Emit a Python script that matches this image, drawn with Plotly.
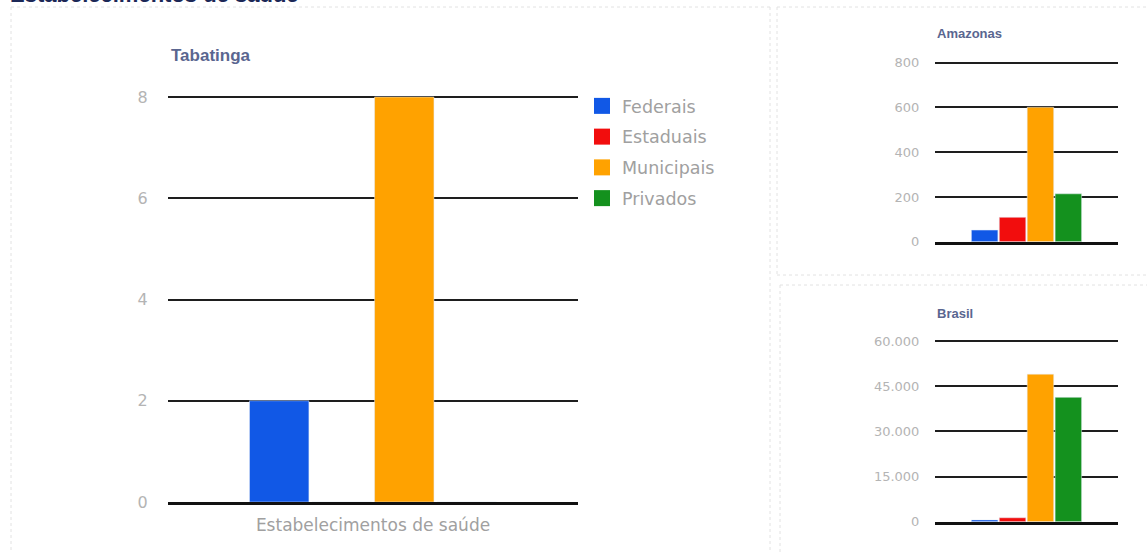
import plotly.graph_objects as go

W, H = 1147, 553

# ---------------- data ----------------
series = ["Federais", "Estaduais", "Municipais", "Privados"]
colors = ["#1158e6", "#f20d0d", "#ffa200", "#14911e"]
category = ["Estabelecimentos de saúde"]
tabatinga = [2, 0, 8, 0]
amazonas = [52, 109, 601, 214]
brasil = [600, 1300, 49000, 41300]

tab_ticks = [0, 2, 4, 6, 8]
ama_ticks = [0, 200, 400, 600, 800]
bra_ticks = [0, 15000, 30000, 45000, 60000]

main_title = "Estabelecimentos de saúde"
panel_titles = ["Tabatinga", "Amazonas", "Brasil"]

FONT = "Liberation Sans, Arial, sans-serif"
LIGHT = "DejaVu Sans, Verdana, sans-serif"
EXTRA = 4  # px of headroom above the top gridline so it is drawn


def px(x):
    return x / W


def py(y):
    return 1 - y / H


def yaxis_geom(bottom_px, top_px, top_val):
    h = bottom_px - top_px
    return dict(domain=[py(bottom_px), py(top_px - EXTRA)],
                range=[0, top_val * (1 + EXTRA / h)])


fig = go.Figure()

# bars
for name, col, v1, v2, v3 in zip(series, colors, tabatinga, amazonas, brasil):
    fig.add_trace(go.Bar(x=category, y=[v1], name=name, marker_color=col,
                         xaxis="x", yaxis="y", showlegend=False, legendgroup=name))
    fig.add_trace(go.Bar(x=category, y=[v2], name=name, marker_color=col,
                         xaxis="x2", yaxis="y2", showlegend=False, legendgroup=name))
    fig.add_trace(go.Bar(x=category, y=[v3], name=name, marker_color=col,
                         xaxis="x3", yaxis="y3", showlegend=False, legendgroup=name))

# legend entries (square swatches)
for name, col in zip(series, colors):
    fig.add_trace(go.Scatter(x=[None], y=[None], mode="markers", name=name,
                             marker=dict(symbol="square", size=16, color=col),
                             xaxis="x", yaxis="y", legendgroup=name, showlegend=True))

grid = dict(showgrid=True, gridcolor="#1e1e1e", gridwidth=1.6, zeroline=False,
            ticks="outside", tickcolor="rgba(0,0,0,0)", fixedrange=True, automargin=False)

xbase = dict(showgrid=False, zeroline=False, showline=True, linecolor="#111111",
             linewidth=2.5, fixedrange=True, ticks="", automargin=False)

fig.update_layout(
    width=W, height=H,
    margin=dict(l=0, r=0, t=0, b=0, pad=0),
    paper_bgcolor="white", plot_bgcolor="white",
    separators=",.",
    barmode="group", bargap=0.39, bargroupgap=0.05,
    font=dict(family=FONT, color="#999999"),
    xaxis=dict(domain=[px(168), px(578)], anchor="y", showticklabels=True,
               tickfont=dict(size=17, color="#a0a0a0", family=LIGHT), ticklabelstandoff=6, **xbase),
    yaxis=dict(anchor="x", tickvals=tab_ticks, **yaxis_geom(502, 97, max(tab_ticks)),
               tickfont=dict(size=16, color="#b4b4b4", family=LIGHT), ticklen=1,
               ticklabelstandoff=15, **grid),
    xaxis2=dict(domain=[px(935), px(1118)], anchor="y2", showticklabels=False, **xbase),
    yaxis2=dict(anchor="x2", tickvals=ama_ticks, **yaxis_geom(241.7, 62.7, max(ama_ticks)),
                tickfont=dict(size=13, color="#b4b4b4", family=LIGHT), ticklen=1,
                ticklabelstandoff=11, **grid),
    xaxis3=dict(domain=[px(935), px(1118)], anchor="y3", showticklabels=False, **xbase),
    yaxis3=dict(anchor="x3", tickvals=bra_ticks, tickformat=",d",
                **yaxis_geom(521.7, 341, max(bra_ticks)),
                tickfont=dict(size=13, color="#b4b4b4", family=LIGHT), ticklen=1,
                ticklabelstandoff=11, **grid),
    legend=dict(x=px(582), y=py(88), xanchor="left", yanchor="top",
                font=dict(size=17.5, color="#a0a0a0", family=LIGHT),
                tracegroupgap=5, bgcolor="rgba(0,0,0,0)"),
    showlegend=True,
)

# titles
fig.add_annotation(text="<b>%s</b>" % main_title, xref="paper", yref="paper",
                   x=px(8), y=py(9), xanchor="left", yanchor="bottom", showarrow=False,
                   font=dict(size=22, color="#1c2857", family=FONT))
fig.add_annotation(text="<b>%s</b>" % panel_titles[0], xref="paper", yref="paper",
                   x=px(169), y=py(55), xanchor="left", yanchor="middle", showarrow=False,
                   font=dict(size=17, color="#5a6690", family=FONT))
fig.add_annotation(text="<b>%s</b>" % panel_titles[1], xref="paper", yref="paper",
                   x=px(935), y=py(34), xanchor="left", yanchor="middle", showarrow=False,
                   font=dict(size=13, color="#5a6690", family=FONT))
fig.add_annotation(text="<b>%s</b>" % panel_titles[2], xref="paper", yref="paper",
                   x=px(935), y=py(313), xanchor="left", yanchor="middle", showarrow=False,
                   font=dict(size=13, color="#5a6690", family=FONT))

# faint panel borders
border = dict(color="#e2e2e2", width=1, dash="dot")
segments = [
    (11, 7, 770, 7), (11, 7, 11, 553), (770, 7, 770, 553),
    (777, 7, 1147, 7), (777, 7, 777, 275), (777, 275, 1147, 275),
    (780, 285, 1147, 285), (780, 285, 780, 553),
]
for x0, y0, x1, y1 in segments:
    fig.add_shape(type="line", xref="paper", yref="paper",
                  x0=px(x0), y0=py(y0), x1=px(x1), y1=py(y1), line=border, layer="below")

fig.write_html("out.html", config={"displayModeBar": False},
               post_script="document.body.style.margin='0';document.body.style.overflow='hidden';")
